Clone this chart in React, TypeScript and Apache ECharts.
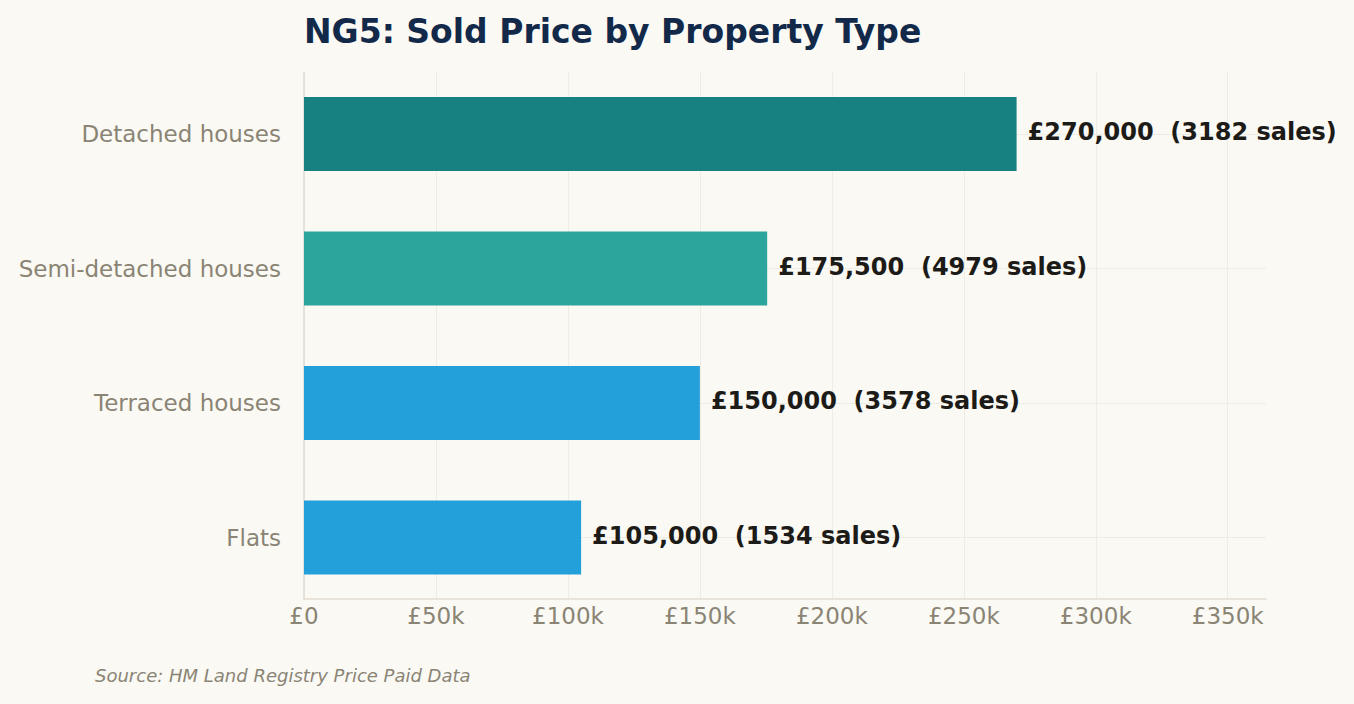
import React, { useEffect, useRef } from "react";
import * as echarts from "echarts";

const categories = ["Detached houses", "Semi-detached houses", "Terraced houses", "Flats"];
const prices = [270000, 175500, 150000, 105000];
const sales = [3182, 4979, 3578, 1534];
const barColors = ["#178080", "#2ca59c", "#239fd9", "#239fd9"];
const xTicks = [0, 50000, 100000, 150000, 200000, 250000, 300000, 350000];
const xMax = 364500;

const fmtPrice = (v: number) => "£" + v.toLocaleString("en-GB");
const fmtTick = (v: number) => (v === 0 ? "£0" : "£" + Math.round(v / 1000) + "k");

export default function App() {
  const ref = useRef<HTMLDivElement>(null);
  useEffect(() => {
    if (!ref.current) return;
    const chart = echarts.init(ref.current, undefined, { renderer: "svg" });
    const font = "DejaVu Sans";
    chart.setOption({
      animation: false,
      backgroundColor: "#faf9f4",
      title: {
        text: "NG5: Sold Price by Property Type",
        left: 299,
        top: 10,
        textStyle: { fontFamily: font, fontSize: 33, fontWeight: "bold", color: "#12294a" },
      },
      graphic: [
        {
          type: "text",
          left: 95,
          top: 666,
          style: {
            text: "Source: HM Land Registry Price Paid Data",
            fontFamily: font,
            fontSize: 18,
            fontStyle: "italic",
            fill: "#8a8474",
          },
        },
      ],
      grid: [
        { left: 304, right: 88, top: 134, bottom: 166.5, containLabel: false },
        { left: 304, right: 88, top: 72, bottom: 105, containLabel: false },
      ],
      xAxis: [
        {
          gridIndex: 0,
          type: "value",
          min: 0,
          max: xMax,
          show: false,
        },
        {
          gridIndex: 1,
          type: "value",
          min: 0,
          max: xMax,
          interval: 50000,
          axisLine: { show: true, lineStyle: { color: "#e3ddd0", width: 1.5 } },
          axisTick: { show: false },
          splitLine: { show: true, showMaxLine: false, lineStyle: { color: "#efece6", width: 1 } },
          axisLabel: {
            fontFamily: font,
            fontSize: 23,
            color: "#8a8474",
            margin: 5,
            showMaxLabel: false,
            formatter: (v: number) => (xTicks.includes(v) ? fmtTick(v) : ""),
          },
        },
      ],
      yAxis: [
        {
          gridIndex: 0,
          type: "category",
          data: categories,
          inverse: true,
          boundaryGap: false,
          axisLine: { show: false },
          axisTick: { show: false },
          splitLine: { show: true, lineStyle: { color: "#efece6", width: 1 } },
          axisLabel: { fontFamily: font, fontSize: 23, color: "#8a8474", margin: 23 },
        },
        {
          gridIndex: 1,
          type: "value",
          min: 0,
          max: 1,
          axisLine: { show: true, lineStyle: { color: "#e3ddd0", width: 1.5 } },
          axisTick: { show: false },
          axisLabel: { show: false },
          splitLine: { show: false },
        },
      ],
      series: [
        {
          type: "bar",
          xAxisIndex: 0,
          yAxisIndex: 0,
          barWidth: 74,
          clip: false,
          z: 3,
          data: prices.map((p, i) => ({ value: p, itemStyle: { color: barColors[i] } })),
          label: {
            show: true,
            position: "right",
            distance: 11,
            offset: [0, -2],
            fontFamily: font,
            fontSize: 24,
            fontWeight: "bold",
            color: "#1c1b18",
            formatter: (p: any) => fmtPrice(prices[p.dataIndex]) + "  (" + sales[p.dataIndex] + " sales)",
          },
        },
      ],
    });
    return () => chart.dispose();
  }, []);
  return <div ref={ref} style={{ position: "fixed", left: 0, top: 0, width: 1354, height: 704 }} />;
}
